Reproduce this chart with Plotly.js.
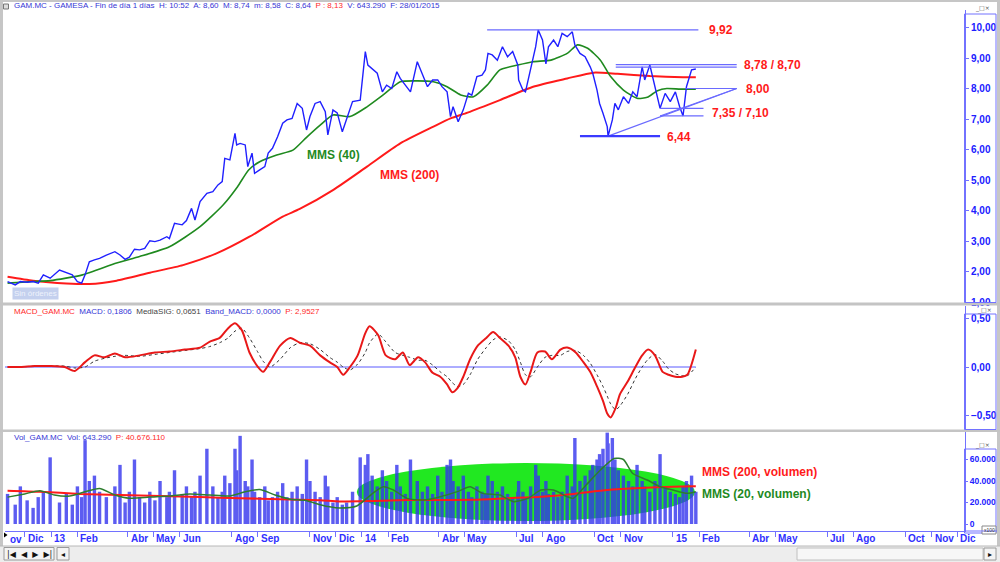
<!DOCTYPE html>
<html>
<head>
<meta charset="utf-8">
<script src="https://cdn.plot.ly/plotly-3.0.1.min.js"></script>
<style>
html,body{margin:0;padding:0;background:#fff;}
#chart{width:1000px;height:562px;}
</style>
</head>
<body>
<div id="chart"></div>
<script>
// ---------- DATA ----------
const priceDates = [
'2012-11-11','2012-11-20','2012-11-26','2012-12-04','2012-12-11','2012-12-17','2012-12-23','2012-12-31',
'2013-01-11','2013-01-19','2013-01-26','2013-02-01','2013-02-06','2013-02-10','2013-02-15','2013-02-21','2013-02-27','2013-03-07',
'2013-03-17','2013-03-23','2013-03-29','2013-04-03','2013-04-09','2013-04-15','2013-04-21','2013-04-27','2013-05-03','2013-05-09',
'2013-05-17','2013-05-20','2013-05-26','2013-06-04','2013-06-09','2013-06-15','2013-06-19','2013-06-25','2013-07-03','2013-07-10',
'2013-07-16','2013-07-21','2013-07-24','2013-07-30','2013-08-05','2013-08-07','2013-08-11','2013-08-17','2013-08-20','2013-08-25',
'2013-08-28','2013-09-03','2013-09-09','2013-09-13','2013-09-18','2013-09-24','2013-09-30','2013-10-05','2013-10-11','2013-10-17',
'2013-10-23','2013-10-28','2013-11-01','2013-11-07','2013-11-13','2013-11-19','2013-11-22','2013-11-28','2013-12-03','2013-12-09',
'2013-12-14','2013-12-21','2013-12-30',
'2014-01-05','2014-01-08','2014-01-13','2014-01-19','2014-01-25','2014-01-30','2014-02-05','2014-02-11','2014-02-15','2014-02-21',
'2014-02-27','2014-03-07','2014-03-13','2014-03-19','2014-03-25','2014-03-31','2014-04-05','2014-04-11','2014-04-15','2014-04-18',
'2014-04-24','2014-04-30','2014-05-06','2014-05-10','2014-05-16','2014-05-22','2014-05-26','2014-05-29','2014-06-03','2014-06-09',
'2014-06-15','2014-06-21','2014-06-27','2014-07-03','2014-07-04','2014-07-09','2014-07-12','2014-07-18','2014-07-24','2014-07-27',
'2014-08-01','2014-08-05','2014-08-08','2014-08-14','2014-08-19','2014-08-24','2014-08-30','2014-09-05','2014-09-08','2014-09-14',
'2014-09-20','2014-09-26','2014-09-29','2014-10-04','2014-10-07','2014-10-11','2014-10-16','2014-10-17','2014-10-22','2014-10-25',
'2014-10-29','2014-11-04','2014-11-10','2014-11-15','2014-11-20','2014-11-26','2014-11-29','2014-12-05','2014-12-11','2014-12-17',
'2014-12-23','2014-12-29',
'2015-01-04','2015-01-09','2015-01-13','2015-01-17','2015-01-23','2015-01-28'
];
const priceClose = [
1.67,1.56,1.67,1.65,1.67,1.62,1.89,1.78,
2.05,1.96,1.89,1.67,1.62,1.89,2.32,2.38,2.43,2.54,
2.65,2.54,2.40,2.47,2.73,2.71,2.76,3.01,2.98,3.03,
3.14,3.08,3.58,3.53,3.67,4.07,3.69,4.29,4.56,4.62,
4.84,4.95,5.71,5.66,6.53,6.15,6.20,6.15,5.44,5.88,
5.22,5.33,5.44,5.88,6.04,6.42,6.86,6.97,7.02,7.51,
7.35,6.64,7.08,7.51,7.57,7.24,6.48,7.30,7.20,6.58,
6.97,7.57,7.62,
9.21,8.77,8.66,8.50,7.89,8.11,8.00,8.55,8.33,8.11,
7.89,8.88,8.50,8.06,8.28,8.28,8.06,7.89,7.08,7.40,
6.91,7.30,7.84,7.78,8.39,8.44,8.61,9.15,9.10,8.93,
9.37,9.04,9.21,8.77,8.28,7.95,7.89,8.61,9.37,9.92,
9.59,8.81,9.37,9.59,9.37,9.81,9.70,9.86,9.43,9.15,
9.04,8.71,8.50,7.95,7.51,7.19,6.75,6.44,6.97,7.51,
7.30,7.73,7.51,7.89,7.73,8.71,8.28,8.77,8.06,7.35,
7.84,7.57,
7.89,7.40,7.10,8.06,8.61,8.64
];
const volume = [ // x100 shares
28000,18000,35000,22000,15000,25000,30000,62000,
20000,28000,18000,35000,25000,78000,40000,45000,30000,25000,
35000,55000,20000,30000,60000,25000,20000,30000,22000,40000,
25000,30000,50000,28000,35000,25000,30000,45000,70000,35000,
25000,30000,45000,38000,70000,50000,82000,40000,35000,60000,
30000,25000,35000,22000,25000,30000,38000,25000,30000,35000,
28000,60000,40000,30000,25000,45000,35000,20000,25000,18000,
20000,30000,62000,
55000,65000,45000,35000,50000,40000,30000,55000,35000,28000,
60000,40000,30000,35000,28000,45000,30000,55000,60000,40000,
35000,45000,30000,25000,35000,30000,28000,45000,40000,30000,
35000,28000,25000,30000,40000,30000,25000,35000,55000,45000,
30000,40000,28000,30000,25000,30000,45000,35000,80000,40000,
45000,50000,55000,60000,65000,70000,85000,75000,80000,60000,
50000,45000,40000,35000,55000,40000,35000,30000,40000,65000,
35000,30000,
28000,25000,35000,40000,45000,30000
];

const mms40Dates = ['2012-11-11','2012-12-11','2012-12-31','2013-02-07','2013-03-19','2013-04-15','2013-05-20','2013-06-25','2013-07-22','2013-08-08',
'2013-08-21','2013-09-03','2013-09-23','2013-10-12','2013-10-28','2013-11-13','2013-11-28','2013-12-18','2014-01-07','2014-01-26',
'2014-02-15','2014-03-07','2014-03-26','2014-04-11','2014-04-27','2014-05-12','2014-05-28','2014-06-12','2014-07-03','2014-07-21',
'2014-08-11','2014-08-30','2014-09-11','2014-09-23','2014-10-08','2014-10-20','2014-11-04','2014-11-20','2014-12-02','2014-12-14',
'2014-12-25','2015-01-10','2015-01-28'];
const mms40 = [1.62,1.67,1.70,1.89,2.28,2.49,2.81,3.47,4.18,4.78,
5.33,5.60,5.82,5.98,6.40,6.80,7.13,7.08,7.40,7.79,
8.22,8.25,8.22,8.06,7.79,7.73,8.11,8.61,8.77,8.88,
8.93,9.15,9.43,9.32,8.93,8.39,7.95,7.68,7.71,7.93,
8.00,7.98,7.98];

const mms200Dates = ['2012-11-11','2012-12-11','2013-01-19','2013-02-15','2013-03-19','2013-04-27','2013-06-05','2013-07-15','2013-08-22','2013-09-30',
'2013-10-20','2013-11-28','2014-01-07','2014-02-15','2014-03-26','2014-04-15','2014-05-05','2014-06-12','2014-07-21','2014-08-30',
'2014-09-30','2014-10-28','2014-12-05','2015-01-13','2015-01-28'];
const mms200 = [1.83,1.70,1.61,1.59,1.70,1.96,2.21,2.60,3.14,3.80,
4.05,4.67,5.44,6.20,6.75,7.02,7.21,7.62,8.06,8.33,
8.52,8.48,8.41,8.37,8.37];

const macdDates = ['2012-11-11','2012-11-26','2012-12-13','2012-12-31','2013-01-17','2013-01-29','2013-02-10','2013-02-21','2013-03-05','2013-03-17',
'2013-03-29','2013-04-15','2013-05-03','2013-05-20','2013-06-07','2013-06-25','2013-07-06','2013-07-18','2013-07-28','2013-08-05',
'2013-08-13','2013-08-22','2013-09-01','2013-09-07','2013-09-15','2013-09-27','2013-10-09','2013-10-20','2013-11-01','2013-11-13',
'2013-11-24','2013-12-03','2013-12-10','2013-12-18','2013-12-27','2014-01-05','2014-01-10','2014-01-20','2014-01-29','2014-02-09',
'2014-02-18','2014-02-26','2014-03-08','2014-03-16','2014-03-25','2014-04-03','2014-04-11','2014-04-17','2014-04-23','2014-04-30',
'2014-05-08','2014-05-17','2014-05-27','2014-06-04','2014-06-12','2014-06-22','2014-06-30','2014-07-06','2014-07-12','2014-07-18',
'2014-07-26','2014-08-04','2014-08-12','2014-08-22','2014-08-30','2014-09-09','2014-09-18','2014-09-26','2014-10-04','2014-10-11',
'2014-10-16','2014-10-20','2014-10-26','2014-10-31','2014-11-09','2014-11-18','2014-11-26','2014-12-03','2014-12-11','2014-12-20',
'2014-12-27','2015-01-04','2015-01-12','2015-01-18','2015-01-28'];
const macd = [0.00,0.00,0.01,0.01,0.00,-0.04,0.05,0.12,0.10,0.14,
0.10,0.12,0.15,0.16,0.18,0.20,0.26,0.30,0.40,0.45,
0.38,0.15,0.00,-0.05,0.05,0.22,0.30,0.25,0.22,0.12,
0.05,0.00,-0.08,0.00,0.12,0.35,0.42,0.33,0.12,0.08,
0.15,0.02,0.10,0.05,-0.06,-0.10,-0.18,-0.26,-0.22,-0.10,
0.08,0.22,0.30,0.36,0.30,0.22,0.10,-0.10,-0.18,-0.05,
0.15,0.16,0.08,0.18,0.20,0.15,0.05,-0.05,-0.20,-0.35,
-0.48,-0.52,-0.42,-0.28,-0.15,0.00,0.12,0.18,0.12,-0.05,
-0.08,-0.10,-0.10,-0.08,0.18];
const macdSignal = [0.00,0.00,0.01,0.01,0.01,-0.01,0.00,0.06,0.09,0.11,
0.12,0.11,0.13,0.15,0.17,0.19,0.21,0.25,0.30,0.37,
0.40,0.30,0.15,0.06,0.00,0.08,0.20,0.25,0.24,0.18,
0.10,0.05,0.00,-0.03,0.03,0.15,0.25,0.34,0.26,0.15,
0.12,0.10,0.07,0.07,0.02,-0.05,-0.10,-0.16,-0.20,-0.18,
-0.08,0.08,0.20,0.28,0.31,0.27,0.18,0.05,-0.08,-0.10,
0.00,0.10,0.12,0.12,0.16,0.17,0.12,0.04,-0.08,-0.20,
-0.30,-0.38,-0.44,-0.40,-0.28,-0.12,0.00,0.08,0.13,0.06,
-0.02,-0.07,-0.09,-0.09,0.00];
const bandDates = ['2012-11-08','2015-01-28'];
const bandMacd = [0, 0];

const volMms200Dates = ['2012-11-11','2012-12-19','2013-02-04','2013-03-23','2013-05-09','2013-06-25','2013-08-11','2013-09-27','2013-11-13','2013-12-06',
'2014-01-14','2014-02-23','2014-04-03','2014-05-12','2014-06-21','2014-07-30','2014-09-06','2014-10-16','2014-11-24','2015-01-01','2015-01-28'];
const volMms200 = [31000,30000,28000,27000,26000,25000,24000,23000,22000,21000,
21500,22300,22400,22500,24000,25400,28000,31600,33500,34700,35000];

const volMms20Dates = ['2012-11-11','2012-12-01','2012-12-19','2013-01-05','2013-01-23','2013-02-10','2013-02-27','2013-03-17','2013-04-03','2013-04-27',
'2013-05-20','2013-06-13','2013-07-06','2013-07-30','2013-08-17','2013-09-03','2013-09-21','2013-10-09','2013-10-26','2013-11-13',
'2013-11-24','2013-12-06','2013-12-26','2014-01-14','2014-01-26','2014-02-07','2014-02-23','2014-03-14','2014-04-03','2014-04-23',
'2014-05-08','2014-05-23','2014-06-12','2014-06-28','2014-07-15','2014-07-30','2014-08-14','2014-08-30','2014-09-06','2014-09-23',
'2014-10-08','2014-10-24','2014-11-04','2014-11-15','2014-12-02','2014-12-17','2015-01-01','2015-01-18','2015-01-28'];
const volMms20 = [25000,28000,31000,27000,26000,30000,33000,27000,24000,25000,
26000,28000,27000,26000,30000,32000,27000,23000,22000,18000,
16000,14900,16800,28800,34700,31600,23800,22300,25400,30100,
34700,28500,27000,20800,23800,31600,31600,25400,23800,37800,
50200,61000,60000,47000,40900,34700,31600,28500,30000];

// support / resistance levels drawn on the price panel
const levels = {top: 9.92, resA: 8.78, resB: 8.70, apex: 8.00, supA: 7.35, supB: 7.10, low: 6.44};
const levelLabels = ['9,92', '8,78 / 8,70', '8,00', '7,35 / 7,10', '6,44'];

const monthTicks = ['2012-12-01','2013-01-01','2013-02-01','2013-04-01','2013-05-01','2013-06-01','2013-08-01','2013-09-01','2013-11-01','2013-12-01',
'2014-01-01','2014-02-01','2014-04-01','2014-05-01','2014-07-01','2014-08-01','2014-10-01','2014-11-01',
'2015-01-01','2015-02-01','2015-04-01','2015-05-01','2015-07-01','2015-08-01','2015-10-01','2015-11-01','2015-12-01'];
const monthLabels = ['Dic','13','Feb','Abr','May','Jun','Ago','Sep','Nov','Dic',
'14','Feb','Abr','May','Jul','Ago','Oct','Nov',
'15','Feb','Abr','May','Jul','Ago','Oct','Nov','Dic'];

const priceTicks = [1,2,3,4,5,6,7,8,9,10];
const macdTicks = [-0.5, 0, 0.5];
const volTicks = [0, 20000, 40000, 60000];

// ---------- STYLE ----------
const BLUE = '#2020ff';
const AXBLUE = '#7272ff';
const RED = '#ff1a1a';
const GREEN = '#1f8a1f';
const H = 562;
const py = px => 1 - px / H;      // page pixel row -> paper y
const pxX = px => px / 1000;      // page pixel column -> paper x

const traces = [
  {type:'scatter', mode:'lines', x: mms200Dates, y: mms200, line:{color:RED, width:2, shape:'spline', smoothing:0.6}, xaxis:'x', yaxis:'y'},
  {type:'scatter', mode:'lines', x: mms40Dates, y: mms40, line:{color:GREEN, width:1.6, shape:'spline', smoothing:0.6}, xaxis:'x', yaxis:'y'},
  {type:'scatter', mode:'lines', x: priceDates, y: priceClose, line:{color:BLUE, width:1.4}, xaxis:'x', yaxis:'y'},

  {type:'scatter', mode:'lines', x: bandDates, y: bandMacd, line:{color:'#5a5aff', width:1}, xaxis:'x', yaxis:'y2'},
  {type:'scatter', mode:'lines', x: macdDates, y: macdSignal, line:{color:'#333333', width:1, dash:'dot', shape:'spline', smoothing:0.7}, xaxis:'x', yaxis:'y2'},
  {type:'scatter', mode:'lines', x: macdDates, y: macd, line:{color:'#e81818', width:2, shape:'spline', smoothing:0.7}, xaxis:'x', yaxis:'y2'},

  {type:'bar', x: priceDates, y: volume, marker:{color:'#3434ee', line:{width:0}}, width: 4*86400000, opacity:0.8, xaxis:'x', yaxis:'y3'},
  {type:'scatter', mode:'lines', x: volMms200Dates, y: volMms200, line:{color:RED, width:2, shape:'spline', smoothing:0.6}, xaxis:'x', yaxis:'y3'},
  {type:'scatter', mode:'lines', x: volMms20Dates, y: volMms20, line:{color:'#2e7d2e', width:1.5, shape:'spline', smoothing:0.6}, xaxis:'x', yaxis:'y3'}
];

const yCommon = {
  side:'right', anchor:'x', showline:true, linecolor:AXBLUE, linewidth:1,
  ticks:'outside', ticklen:3, tickcolor:AXBLUE, showgrid:false, zeroline:false,
  tickfont:{family:'Arial, Liberation Sans', size:10, color:BLUE, weight:'bold'}
};

const shapes = [];
// panel frame pieces
shapes.push({type:'rect', xref:'paper', yref:'paper', x0:0, x1:pxX(3), y0:0, y1:1, fillcolor:'#c6c6c6', line:{width:0}, layer:'above'});
shapes.push({type:'rect', xref:'paper', yref:'paper', x0:pxX(997), x1:1, y0:0, y1:1, fillcolor:'#c6c6c6', line:{width:0}, layer:'above'});
shapes.push({type:'rect', xref:'paper', yref:'paper', x0:0, x1:1, y0:py(2), y1:1, fillcolor:'#c6c6c6', line:{width:0}, layer:'above'});
shapes.push({type:'rect', xref:'paper', yref:'paper', x0:0, x1:1, y0:py(305.5), y1:py(302.5), fillcolor:'#c4c4c4', line:{width:0}, layer:'above'});
shapes.push({type:'rect', xref:'paper', yref:'paper', x0:0, x1:1, y0:py(432), y1:py(429.5), fillcolor:'#c4c4c4', line:{width:0}, layer:'above'});
// right axis boxes
[[14,302.5],[314,429.5],[449,533]].forEach(b => {
  shapes.push({type:'rect', xref:'paper', yref:'paper', x0:pxX(964.5), x1:pxX(996), y0:py(b[1]), y1:py(b[0]), line:{color:AXBLUE, width:1}, fillcolor:'rgba(0,0,0,0)', layer:'above'});
});
// x100 box
shapes.push({type:'rect', xref:'paper', yref:'paper', x0:pxX(982), x1:pxX(996), y0:py(534), y1:py(526), line:{color:'#888', width:1}, fillcolor:'#fff', layer:'above'});
// x-axis line continuation
shapes.push({type:'line', xref:'paper', yref:'paper', x0:pxX(964), x1:pxX(997), y0:py(531), y1:py(531), line:{color:AXBLUE, width:1}});
// header icon
shapes.push({type:'rect', xref:'paper', yref:'paper', x0:pxX(3.5), x1:pxX(8.5), y0:py(9), y1:py(4), line:{color:'#777', width:1}, fillcolor:'#ddd', layer:'above'});
// small black arrow at the axis strip's left
shapes.push({type:'path', xref:'paper', yref:'paper', path:`M ${pxX(4)} ${py(532.5)} L ${pxX(7.5)} ${py(535)} L ${pxX(4)} ${py(537.5)} Z`, fillcolor:'#000', line:{width:0}, layer:'above'});
// bottom navigation bar
shapes.push({type:'rect', xref:'paper', yref:'paper', x0:0, x1:1, y0:0, y1:py(546), fillcolor:'#ededed', line:{width:0}, layer:'above'});
shapes.push({type:'line', xref:'paper', yref:'paper', x0:0, x1:1, y0:py(546), y1:py(546), line:{color:'#b8b8b8', width:1}, layer:'above'});
shapes.push({type:'rect', xref:'paper', yref:'paper', x0:pxX(4), x1:pxX(54), y0:py(560), y1:py(547.5), fillcolor:'#f4f4f4', line:{color:'#9a9a9a', width:1}, layer:'above'});
shapes.push({type:'rect', xref:'paper', yref:'paper', x0:pxX(57), x1:pxX(69), y0:py(560), y1:py(547.5), fillcolor:'#f4f4f4', line:{color:'#9a9a9a', width:1}, layer:'above'});
shapes.push({type:'rect', xref:'paper', yref:'paper', x0:pxX(797), x1:pxX(983), y0:py(560), y1:py(548), fillcolor:'#f7f7f7', line:{color:'#c0c0c0', width:1}, layer:'above'});
shapes.push({type:'rect', xref:'paper', yref:'paper', x0:pxX(984), x1:pxX(996), y0:py(560), y1:py(548), fillcolor:'#f4f4f4', line:{color:'#9a9a9a', width:1}, layer:'above'});

// support / resistance drawings (data coordinates)
const LVL = '#6a6aff';
shapes.push({type:'line', xref:'x', yref:'y', x0:'2014-05-28', x1:'2015-01-31', y0:levels.top, y1:levels.top, line:{color:LVL, width:1.2}});
shapes.push({type:'line', xref:'x', yref:'y', x0:'2014-10-26', x1:'2015-03-17', y0:levels.resA, y1:levels.resA, line:{color:LVL, width:1.2}});
shapes.push({type:'line', xref:'x', yref:'y', x0:'2014-10-26', x1:'2015-03-17', y0:levels.resB, y1:levels.resB, line:{color:LVL, width:1.2}});
shapes.push({type:'line', xref:'x', yref:'y', x0:'2015-01-16', x1:'2015-03-17', y0:levels.apex, y1:levels.apex, line:{color:LVL, width:1.2}});
shapes.push({type:'line', xref:'x', yref:'y', x0:'2014-12-17', x1:'2015-02-06', y0:levels.supA, y1:levels.supA, line:{color:LVL, width:1.2}});
shapes.push({type:'line', xref:'x', yref:'y', x0:'2014-12-17', x1:'2015-02-06', y0:levels.supB, y1:levels.supB, line:{color:LVL, width:1.2}});
shapes.push({type:'line', xref:'x', yref:'y', x0:'2014-10-17', x1:'2015-03-17', y0:levels.low, y1:levels.apex, line:{color:LVL, width:1.2}});
shapes.push({type:'line', xref:'x', yref:'y', x0:'2014-12-17', x1:'2015-03-17', y0:levels.supB, y1:levels.apex, line:{color:LVL, width:1.2}});
shapes.push({type:'line', xref:'x', yref:'y', x0:'2014-09-14', x1:'2014-12-17', y0:levels.low, y1:levels.low, line:{color:'#3a3aff', width:2.2}});
// green ellipse in the volume panel
shapes.push({type:'circle', xref:'x', yref:'y3', x0:'2013-12-26', x1:'2015-01-27', y0:2800, y1:56700, fillcolor:'#22e822', line:{width:0}, layer:'below'});

const annotations = [];
const lbl = (x, y, text, color, extra) => Object.assign({xref:'x', yref:'y', x:x, y:y, text:text, showarrow:false, xanchor:'left', yanchor:'middle',
  font:{family:'Arial, Liberation Sans', size:12, color:color, weight:'bold'}}, extra||{});
annotations.push(lbl('2015-02-10', levels.top, levelLabels[0], RED));
annotations.push(lbl('2015-03-23', 8.77, levelLabels[1], RED));
annotations.push(lbl('2015-03-26', levels.apex, levelLabels[2], RED));
annotations.push(lbl('2015-02-14', 7.2, levelLabels[3], RED));
annotations.push(lbl('2014-12-23', 6.42, levelLabels[4], RED));
annotations.push(lbl('2013-11-29', 5.82, 'MMS (40)', GREEN, {xanchor:'center'}));
annotations.push(lbl('2014-02-26', 5.16, 'MMS (200)', RED, {xanchor:'center'}));
annotations.push(lbl('2015-02-02', 48400, 'MMS (200, volumen)', RED, {yref:'y3'}));
annotations.push(lbl('2015-02-02', 27900, 'MMS (20, volumen)', GREEN, {yref:'y3'}));

// headers
const hdr = (y, text) => ({xref:'paper', yref:'paper', x:pxX(12), y:py(y), text:text, showarrow:false, xanchor:'left', yanchor:'middle',
  font:{family:'Arial, Liberation Sans', size:8, color:'#3636d6'}});
annotations.push(hdr(6, 'GAM.MC - GAMESA - Fin de día 1 días  H: 10:52  A: 8,60  M: 8,74  m: 8,58  C: 8,64  <span style="color:#ff2a2a">P : 8,13</span>  V: 643.290  F: 28/01/2015'));
annotations.push(hdr(311, '<span style="color:#ff2a2a">MACD_GAM.MC</span>  MACD: 0,1806  <span style="color:#444">MediaSIG: 0,0651</span>  Band_MACD: 0,0000  <span style="color:#ff2a2a">P: 2,9527</span>'));
annotations.push(hdr(437, 'Vol_GAM.MC  Vol: 643.290  <span style="color:#ff2a2a">P: 40.676.110</span>'));

// window buttons
[[8,982],[309.5,984],[445,982]].forEach(p => annotations.push({xref:'paper', yref:'paper', x:pxX(p[1]), y:py(p[0]), text:'_□×', showarrow:false, xanchor:'center', yanchor:'middle',
  font:{family:'DejaVu Sans', size:6, color:'#555'}, borderpad:0}));
annotations.push({xref:'paper', yref:'paper', x:pxX(989), y:py(530), text:'x100', showarrow:false, xanchor:'center', yanchor:'middle', font:{family:'Arial', size:5, color:'#333'}});

// "Sin órdenes"
annotations.push({xref:'paper', yref:'paper', x:pxX(12), y:py(293), text:'Sin órdenes', showarrow:false, xanchor:'left', yanchor:'middle',
  bgcolor:'#c4d0ee', font:{family:'Arial, Liberation Sans', size:8, color:'#eef2fc'}, borderpad:1});

// month labels (to the right of each tick)
monthTicks.forEach((d, i) => annotations.push({xref:'x', yref:'paper', x:d, y:py(538.5), text:monthLabels[i], showarrow:false, xanchor:'left', yanchor:'middle', xshift:1,
  font:{family:'Arial, Liberation Sans', size:10, color:'#3030ff', weight:'bold'}}));
annotations.push({xref:'paper', yref:'paper', x:pxX(8), y:py(539.5), text:'ov', showarrow:false, xanchor:'left', yanchor:'middle',
  font:{family:'Arial, Liberation Sans', size:10, color:'#3030ff', weight:'bold'}});
// navigation glyphs
annotations.push({xref:'paper', yref:'paper', x:pxX(29), y:py(554), text:'|◀  ◀  ▶  ▶|', showarrow:false, xanchor:'center', yanchor:'middle', font:{family:'DejaVu Sans', size:8, color:'#111'}});
annotations.push({xref:'paper', yref:'paper', x:pxX(63), y:py(554), text:'◂', showarrow:false, xanchor:'center', yanchor:'middle', font:{family:'DejaVu Sans', size:8, color:'#111'}});
annotations.push({xref:'paper', yref:'paper', x:pxX(990), y:py(554), text:'▸', showarrow:false, xanchor:'center', yanchor:'middle', font:{family:'DejaVu Sans', size:8, color:'#111'}});

const layout = {
  width:1000, height:562, margin:{l:0, r:0, t:0, b:0},
  paper_bgcolor:'#ffffff', plot_bgcolor:'#ffffff', showlegend:false, separators:',.',
  hovermode:false, barmode:'overlay',
  xaxis:{type:'date', domain:[0.005, 0.965], range:['2012-11-08','2015-12-10'], anchor:'y3',
    showline:true, linecolor:AXBLUE, linewidth:1, ticks:'outside', ticklen:5, tickcolor:AXBLUE,
    tickmode:'array', tickvals:monthTicks, showticklabels:false, showgrid:false, zeroline:false},
  yaxis:Object.assign({}, yCommon, {domain:[py(302), py(10)], range:[1.0, 10.574], tickmode:'array', tickvals:priceTicks, tickformat:'.2f'}),
  yaxis2:Object.assign({}, yCommon, {domain:[py(429), py(306)], range:[-0.639, 0.629], tickmode:'array', tickvals:macdTicks, tickformat:'.2f'}),
  yaxis3:Object.assign({}, yCommon, {domain:[py(530.5), py(432)], range:[-6047, 85581], tickmode:'array', tickvals:volTicks, tickformat:',d',
    ticklen:2, tickfont:{family:'Arial, Liberation Sans', size:8.5, color:BLUE, weight:'bold'}}),
  shapes:shapes, annotations:annotations
};

Plotly.newPlot('chart', traces, layout, {staticPlot:true, displayModeBar:false});
</script>
</body>
</html>
